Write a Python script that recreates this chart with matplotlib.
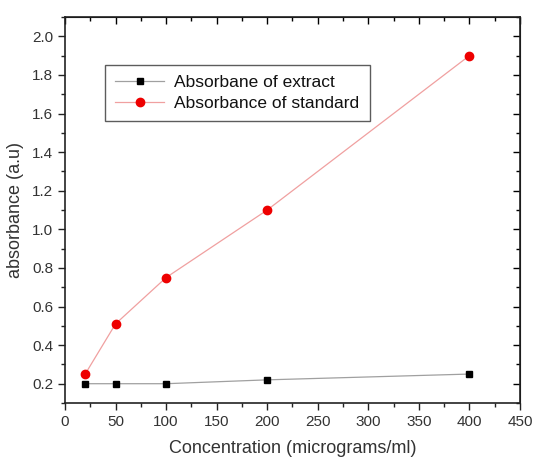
import matplotlib
matplotlib.use("Agg")
import matplotlib.pyplot as plt
from matplotlib.ticker import MultipleLocator

plt.rcParams["font.family"] = ["Liberation Sans", "DejaVu Sans"]

# data
conc = [20, 50, 100, 200, 400]
abs_extract = [0.20, 0.20, 0.20, 0.22, 0.25]
abs_standard = [0.25, 0.51, 0.75, 1.10, 1.90]

x_ticks = [0, 50, 100, 150, 200, 250, 300, 350, 400, 450]
y_ticks = [0.2, 0.4, 0.6, 0.8, 1.0, 1.2, 1.4, 1.6, 1.8, 2.0]

txt = "#333333"

fig = plt.figure(figsize=(5.34, 4.61), dpi=100)
ax = fig.add_axes([0.1217, 0.1258, 0.8521, 0.8373])

ax.plot(conc, abs_extract, color="#a0a0a0", lw=0.9, marker="s", ms=5,
        mfc="black", mec="black", label="Absorbane of extract")
ax.plot(conc, abs_standard, color="#f0a0a0", lw=0.9, marker="o", ms=6,
        mfc="#ee0000", mec="#ee0000", label="Absorbance of standard")

ax.set_xlim(0, 450)
ax.set_ylim(0.1, 2.1)
ax.set_xticks(x_ticks)
ax.set_yticks(y_ticks)
ax.set_yticklabels([f"{v:.1f}" for v in y_ticks])
ax.xaxis.set_minor_locator(MultipleLocator(25))
ax.yaxis.set_minor_locator(MultipleLocator(0.1))
ax.tick_params(which="major", direction="out", length=5, width=1, labelsize=11,
               labelcolor=txt, color="#222222")
ax.tick_params(which="minor", direction="out", length=3, width=1, color="#222222")

# mirrored ticks on top and right, pointing in
top = ax.secondary_xaxis("top")
top.set_xticks(x_ticks)
top.xaxis.set_minor_locator(MultipleLocator(25))
top.tick_params(which="major", direction="in", length=5, width=1, labeltop=False)
top.tick_params(which="minor", direction="in", length=3, width=1)
right = ax.secondary_yaxis("right")
right.set_yticks(y_ticks)
right.yaxis.set_minor_locator(MultipleLocator(0.1))
right.tick_params(which="major", direction="in", length=5, width=1, labelright=False)
right.tick_params(which="minor", direction="in", length=3, width=1)

for s in ax.spines.values():
    s.set_linewidth(1.2)
    s.set_color("#222222")

ax.set_xlabel("Concentration (micrograms/ml)", fontsize=13, color=txt, labelpad=8)
ax.set_ylabel("absorbance (a.u)", fontsize=13, color=txt, labelpad=6)

leg = ax.legend(loc="upper left", bbox_to_anchor=(0.088, 0.876), fontsize=12.5,
                frameon=True, fancybox=False, edgecolor="#333333",
                borderaxespad=0, handlelength=2.8, borderpad=0.6,
                labelspacing=0.3, handletextpad=0.6)
leg.get_frame().set_linewidth(1.0)
for t in leg.get_texts():
    t.set_color("#111111")

fig.savefig("out.png", dpi=100)
